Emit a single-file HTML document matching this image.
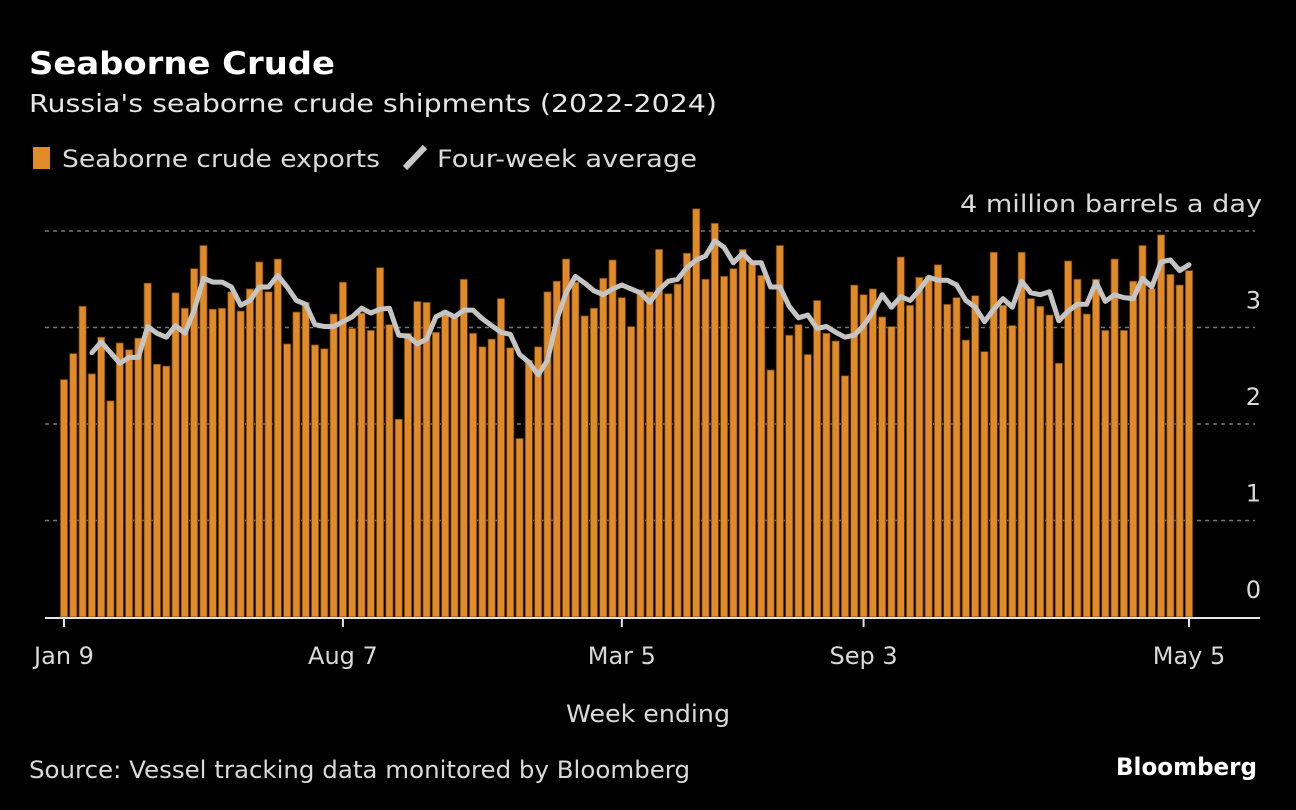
<!DOCTYPE html>
<html><head><meta charset="utf-8">
<style>
html,body{margin:0;padding:0;background:#000;}
svg{display:block;font-family:"DejaVu Sans","Liberation Sans",sans-serif;}
</style></head>
<body>
<svg id="chart" width="1296" height="810" viewBox="0 0 1296 810" xmlns="http://www.w3.org/2000/svg">
<rect width="1296" height="810" fill="#000"/>
<text x="29" y="74" fill="#fff" font-size="31" font-weight="bold" textLength="306" lengthAdjust="spacingAndGlyphs">Seaborne Crude</text>
<text x="29" y="112" fill="#e6e6e6" font-size="25" textLength="688" lengthAdjust="spacingAndGlyphs">Russia's seaborne crude shipments (2022-2024)</text>
<g>
<rect x="33" y="147" width="17" height="22" fill="#e08b27"/>
<text x="62" y="167" fill="#d9d9d9" font-size="24" textLength="318" lengthAdjust="spacingAndGlyphs">Seaborne crude exports</text>
<line x1="405" y1="168" x2="425" y2="147" stroke="#c8c8c8" stroke-width="6"/>
<text x="437" y="167" fill="#d9d9d9" font-size="24" textLength="260" lengthAdjust="spacingAndGlyphs">Four-week average</text>
</g>
<g id="grid"></g>
<g id="bars"></g>
<g id="line"></g>
<g id="axes"></g>
<text x="566" y="722" fill="#d9d9d9" font-size="24" textLength="164" lengthAdjust="spacingAndGlyphs">Week ending</text>
<text x="29" y="778" fill="#d9d9d9" font-size="24" textLength="661" lengthAdjust="spacingAndGlyphs">Source: Vessel tracking data monitored by Bloomberg</text>
<text x="1116" y="775" fill="#fff" font-size="24" font-weight="bold" textLength="141" lengthAdjust="spacingAndGlyphs">Bloomberg</text>
</svg>
<script>
const exports = [2.46,2.73,3.22,2.52,2.90,2.24,2.84,2.77,2.89,3.46,2.62,2.60,3.36,3.20,3.61,3.85,3.19,3.20,3.37,3.17,3.40,3.68,3.37,3.71,2.83,3.16,3.26,2.82,2.78,3.14,
3.47,2.99,3.15,2.97,3.62,3.03,2.05,2.94,3.27,3.26,2.95,3.13,3.13,3.50,2.94,2.80,2.88,3.30,2.79,1.85,2.66,2.80,3.37,3.48,3.71,3.47,3.12,3.20,3.51,3.70,
3.31,3.01,3.39,3.37,3.81,3.35,3.45,3.77,4.23,3.50,4.08,3.53,3.61,3.81,3.66,3.54,2.56,3.85,2.92,3.03,2.72,3.28,2.94,2.86,2.50,3.44,3.34,3.40,3.11,3.01,
3.73,3.23,3.52,3.53,3.65,3.24,3.31,2.87,3.33,2.75,3.78,3.23,3.02,3.78,3.30,3.22,3.13,2.63,3.69,3.50,3.14,3.50,2.97,3.71,2.97,3.48,3.85,3.40,3.96,3.55,3.44,3.59];
const avgStart = 3;
const average = [2.74,2.85,2.74,2.63,2.69,2.69,3.01,2.94,2.90,3.02,2.94,3.18,3.51,3.47,3.47,3.42,3.23,3.28,3.42,3.42,3.54,3.42,3.28,3.24,3.03,3.01,3.01,
3.06,3.11,3.20,3.15,3.19,3.20,2.92,2.91,2.83,2.88,3.11,3.16,3.11,3.18,3.18,3.09,3.02,2.95,2.93,2.72,2.64,2.51,2.66,3.08,3.36,3.53,3.46,3.38,3.34,3.40,3.44,3.40,
3.36,3.26,3.39,3.48,3.50,3.62,3.70,3.74,3.90,3.83,3.67,3.77,3.67,3.67,3.42,3.42,3.22,3.10,3.13,2.99,3.01,2.95,2.90,2.92,3.02,3.16,3.34,3.21,3.32,3.28,3.39,
3.52,3.49,3.49,3.44,3.28,3.21,3.06,3.19,3.30,3.21,3.48,3.36,3.34,3.37,3.07,3.17,3.24,3.24,3.47,3.27,3.34,3.31,3.30,3.51,3.42,3.68,3.70,3.59,3.65];
const yTicks = [0,1,2,3];
const yTickLabels = ["0","1","2","3"];
const xTickIdx = [0,30,60,86,121];
const xTickLabels = ["Jan 9","Aug 7","Mar 5","Sep 3","May 5"];

const NS="http://www.w3.org/2000/svg";
const x0=64, x1=1189, y0=617, yPer=96.5;
const xs=i=>x0+(x1-x0)*i/(exports.length-1);
const ys=v=>y0-v*yPer;
function mk(tag,attrs,parent){const e=document.createElementNS(NS,tag);for(const k in attrs)e.setAttribute(k,attrs[k]);parent.appendChild(e);return e;}
const grid=document.getElementById('grid'),bars=document.getElementById('bars'),line=document.getElementById('line'),axes=document.getElementById('axes');

[1,2,3,4].forEach(v=>{
 const g=mk('line',{x1:45,x2:1255,y1:ys(v),y2:ys(v),stroke:'#777','stroke-width':1.5,'stroke-dasharray':'4 4'},grid);
 
 
});
yTicks.forEach((v,k)=>{
 const t=mk('text',{x:1261,y:ys(v)-19,fill:'#d9d9d9','font-size':24,'text-anchor':'end'},axes);
 t.textContent=yTickLabels[k];
 
 
});
const unit=mk('text',{x:960,y:ys(4)-19,fill:'#d9d9d9','font-size':24,textLength:302,lengthAdjust:'spacingAndGlyphs'},axes);
unit.textContent='4 million barrels a day';



exports.forEach((v,i)=>{
 const r=mk('rect',{x:xs(i)-3.6,y:ys(v),width:7.2,height:v*yPer,fill:'#e08b27',stroke:'#6b3f0c','stroke-width':0.8},bars);
 
 
});
const pts=average.map((v,k)=>xs(k+avgStart).toFixed(1)+','+ys(v).toFixed(1)).join(' ');
const pl=mk('polyline',{points:pts,fill:'none',stroke:'#c4c4c4','stroke-width':5,'stroke-linejoin':'round','stroke-linecap':'round'},line);



const ax=mk('line',{x1:45,x2:1260,y1:y0+1,y2:y0+1,stroke:'#e6e6e6','stroke-width':2},axes);


xTickIdx.forEach((idx,k)=>{
 const tk=mk('line',{x1:xs(idx),x2:xs(idx),y1:y0,y2:y0+10,stroke:'#e6e6e6','stroke-width':2},axes);
 
 
 const t=mk('text',{x:xs(idx),y:664,fill:'#d9d9d9','font-size':24,'text-anchor':'middle'},axes);
 t.textContent=xTickLabels[k];
 
 
});
</script>
</body></html>
